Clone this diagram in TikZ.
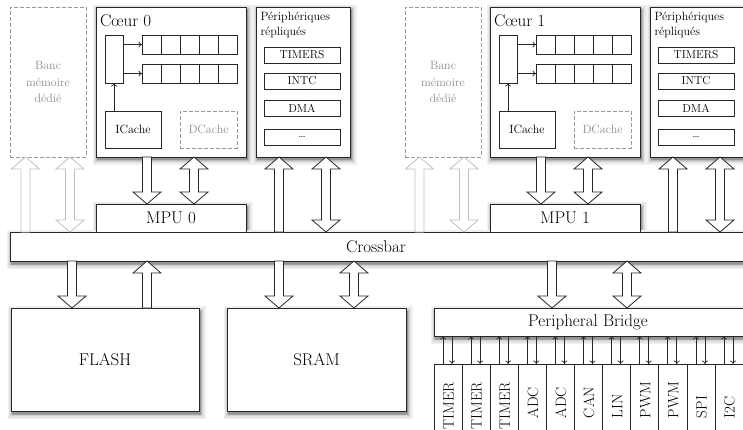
\documentclass[tikz,border=0pt]{standalone}
\usetikzlibrary{arrows.meta,calc}

\newcommand\bigf{\fontsize{17}{20}\selectfont}
\newcommand\smallf{\fontsize{12}{16.5}\selectfont}
\newcommand\tinyf{\fontsize{11.5}{14}\selectfont}
\newcommand\perf{\fontsize{15}{18}\selectfont}

% Soft drop shadow for a box at (#1,#2) of size #3 x #4:
% grey frames going from wide/light to narrow/dark, then a grey core.
\newcommand\softshadow[4]{%
  \foreach \w/\c in {10/6,7/11,4.5/18,2.5/27,1/37}{
    \draw[black!\c,line width=\w pt] ({#1+1.5},{#2+3}) rectangle ++(#3,#4);
  }
  \fill[black!42] ({#1+1.5},{#2+3}) rectangle ++(#3,#4);}

% Block arrow with white body. #2 = x position, #3 = upper anchor,
% #4 = lower anchor, #5/#6 = 1 for a head at the top/bottom, 0 for a flat end.
\newcommand\fatarrow[6][]{%
  \def\fatT{}\def\fatB{}%
  \ifnum#5=1 \def\fatT{-- ({(#2-14)*1pt},{\y1-12pt}) -- ({#2*1pt},\y1) -- ({(#2+14)*1pt},{\y1-12pt})}\fi
  \ifnum#6=1 \def\fatB{-- ({(#2+14)*1pt},{\y2+12pt}) -- ({#2*1pt},\y2) -- ({(#2-14)*1pt},{\y2+12pt})}\fi
  \path[fatarr,#1] let \p1=(#3), \p2=(#4), \n1={#5*12}, \n2={#6*12} in
    ({(#2-4.5)*1pt},{\y1-\n1*1pt}) \fatT -- ({(#2+4.5)*1pt},{\y1-\n1*1pt})
    -- ({(#2+4.5)*1pt},{\y2+\n2*1pt}) \fatB -- ({(#2-4.5)*1pt},{\y2+\n2*1pt}) -- cycle;}

\begin{document}
\begin{tikzpicture}[x=1pt,y=-1pt,
  every node/.style={inner sep=0pt,outer sep=0pt},
  box/.style={draw=black!85,line width=0.8pt,fill=white,rectangle,anchor=north west},
  ghost/.style={draw=black!40,line width=0.8pt,dash pattern=on 4pt off 2pt,
      fill=white,rectangle,anchor=north west,text=black!45},
  fatarr/.style={draw=black!85,fill=white,line width=0.8pt,line join=miter},
  ghostarr/.style={draw=black!25},
  thinarr/.style={draw=black!85,line width=0.7pt,-{To[length=3.5pt,width=6pt]}},
]
\useasboundingbox (0,0) rectangle (743,430);
\clip (0,0) rectangle (743,430);

% ---------- shadows of the solid blocks (drawn first, under everything) ----------
\softshadow{96}{7}{150}{150}
\softshadow{490}{7}{150}{150}
\softshadow{256}{7}{94}{150}
\softshadow{650}{7}{94}{150}
\softshadow{96}{204}{150}{28}
\softshadow{490}{204}{150}{28}
\softshadow{10}{232}{740}{29}
\softshadow{11}{308}{188}{103}
\softshadow{227}{308}{179}{103}
\softshadow{434}{308}{320}{28}

% ---------- dedicated memory banks ----------
\node[ghost,minimum width=76,minimum height=150,align=center,font=\smallf]
  (banc0) at (10,7) {Banc\\mémoire\\dédié};
\node[ghost,minimum width=76,minimum height=150,align=center,font=\smallf]
  (banc1) at (405,7) {Banc\\mémoire\\dédié};

% ---------- cores ----------
\foreach \k/\ox in {0/0,1/394}{
  \node[box,minimum width=150,minimum height=150] (core\k) at (96+\ox,7) {};
  \node[anchor=base west,font=\bigf] (core\k lbl) at (100+\ox,27) {Cœur \k};
  \node[box,minimum width=18,minimum height=48] (fetch\k) at (105+\ox,35) {};
  \foreach \r/\ry in {a/35,b/64}{
    \foreach \c in {0,1,2,3,4}{
      \node[box,minimum width=19,minimum height=19] (q\k\r\c) at ({142+\ox+19*\c},\ry) {};
    }
    \draw[thinarr] (fetch\k.east |- q\k\r0.west) -- (q\k\r0.west);
  }
  \node[box,minimum width=56,minimum height=37,font=\smallf] (ic\k) at (105+\ox,111) {ICache};
  \node[ghost,minimum width=57,minimum height=37,font=\smallf] (dc\k) at (180+\ox,111) {DCache};
  \draw[thinarr] (ic\k.north -| fetch\k.south) -- (fetch\k.south);
}

% ---------- replicated peripherals ----------
\foreach \k/\ox in {0/0,1/394}{
  \node[box,minimum width=94,minimum height=150] (rep\k) at (256+\ox,7) {};
  \node[anchor=base west,align=left,font=\fontsize{12}{15}\selectfont] (rep\k lbl)
    at (260.5+\ox,36) {Périphériques\\répliqués};
  \foreach \t/\ty [count=\j] in {TIMERS/47,INTC/73,DMA/100,{\ldots}/129}{
    \node[box,minimum width=76,minimum height=16,font=\tinyf] (rep\k b\j) at (264+\ox,\ty) {\t};
  }
}

% ---------- MPUs and crossbar ----------
\node[box,minimum width=150,minimum height=28,font=\bigf] (mpu0) at (96,204) {MPU 0};
\node[box,minimum width=150,minimum height=28,font=\bigf] (mpu1) at (490,204) {MPU 1};
\node[box,minimum width=740,minimum height=29] (xbar) at (10,232) {};
\node[font=\bigf] (xbarlbl) at (376,246.5) {Crossbar};

% ---------- memories and bridge ----------
\node[box,minimum width=188,minimum height=103,font=\bigf] (flash) at (11,308) {FLASH};
\node[box,minimum width=179,minimum height=103,font=\bigf] (sram) at (227,308) {SRAM};
\node[box,minimum width=320,minimum height=28] (bridge) at (434,308) {};
\node[font=\bigf] (bridgelbl) at (588,322) {Peripheral Bridge};

% ---------- peripherals behind the bridge ----------
\foreach \t [count=\i from 0] in {TIMER,TIMER,TIMER,ADC,ADC,CAN,LIN,PWM,PWM,SPI,I2C}{
  \node[box,minimum width=28.1,minimum height=90] (p\i) at ({434+28.1*\i},364) {};
  \draw[thinarr] ([xshift=9pt]p\i.north west) -- ([xshift=9pt]p\i.north west |- bridge.south);
  \draw[thinarr] ([xshift=18pt]p\i.north west |- bridge.south) -- ([xshift=18pt]p\i.north west);
}
% labels: the long ones hang from the top, the short ones sit on a common line
\foreach \i in {0,1,2}{
  \node[rotate=90,anchor=east,font=\perf] (pl\i) at ({448.55+28.1*\i},382) {TIMER};
}
\foreach \t [count=\i from 3] in {ADC,ADC,CAN,LIN,PWM,PWM,SPI,I2C}{
  \node[rotate=90,anchor=west,font=\perf] (pl\i) at ({448.55+28.1*\i},418) {\t};
}

% ---------- block arrows ----------
% banks <-> crossbar
\fatarrow[ghostarr]{25.5}{banc0.south}{xbar.north}{1}{0}
\fatarrow[ghostarr]{70}{banc0.south}{xbar.north}{1}{1}
\fatarrow[ghostarr]{419.5}{banc1.south}{xbar.north}{1}{0}
\fatarrow[ghostarr]{464}{banc1.south}{xbar.north}{1}{1}
% cores -> MPUs
\fatarrow{147}{core0.south}{mpu0.north}{0}{1}
\fatarrow{194}{core0.south}{mpu0.north}{1}{1}
\fatarrow{541}{core1.south}{mpu1.north}{0}{1}
\fatarrow{588}{core1.south}{mpu1.north}{1}{1}
% replicated peripherals <-> crossbar
\fatarrow{279}{rep0.south}{xbar.north}{1}{0}
\fatarrow{326}{rep0.south}{xbar.north}{1}{1}
\fatarrow{673}{rep1.south}{xbar.north}{1}{0}
\fatarrow{720}{rep1.south}{xbar.north}{1}{1}
% crossbar <-> memories and bridge
\fatarrow{72}{xbar.south}{flash.north}{0}{1}
\fatarrow{147}{xbar.south}{flash.north}{1}{0}
\fatarrow{279}{xbar.south}{sram.north}{0}{1}
\fatarrow{354}{xbar.south}{sram.north}{1}{1}
\fatarrow{552}{xbar.south}{bridge.north}{0}{1}
\fatarrow{627}{xbar.south}{bridge.north}{1}{1}
\end{tikzpicture}
\end{document}
